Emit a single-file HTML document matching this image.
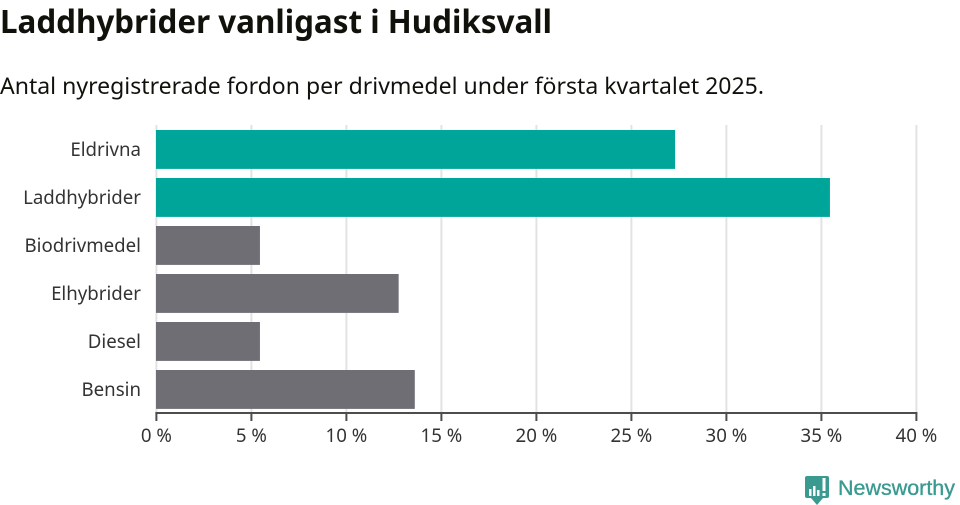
<!DOCTYPE html>
<html lang="sv">
<head>
<meta charset="utf-8">
<title>Laddhybrider vanligast i Hudiksvall</title>
<style>
html,body{margin:0;padding:0;background:#fff;width:960px;height:505px;overflow:hidden}
svg{display:block}
text{font-family:"Noto Sans","Open Sans","DejaVu Sans","Liberation Sans",sans-serif}
</style>
</head>
<body>
<svg id="chart" width="960" height="505" viewBox="0 0 960 505" xmlns="http://www.w3.org/2000/svg">
  <text x="0" y="33" font-size="32" font-weight="700" fill="#11110c" textLength="552" lengthAdjust="spacingAndGlyphs">Laddhybrider vanligast i Hudiksvall</text>
  <text x="0" y="94" font-size="22.5" fill="#11110c" textLength="764" lengthAdjust="spacingAndGlyphs">Antal nyregistrerade fordon per drivmedel under första kvartalet 2025.</text>
  <g id="grid"></g>
  <g id="bars"></g>
  <g id="ylabels"></g>
  <g id="xaxis"></g>
  <g>
    <path d="M807 476h20a2 2 0 0 1 2 2v18a2 2 0 0 1-2 2h-4l-6 7-6-7h-4a2 2 0 0 1-2-2v-18a2 2 0 0 1 2-2z" fill="#3a9a90"/>
    <rect x="809" y="489" width="2.500" height="7" fill="#fff"/>
    <rect x="813" y="486" width="2.500" height="10" fill="#fff"/>
    <rect x="817" y="490" width="2.500" height="6" fill="#fff"/>
    <rect x="822.500" y="478" width="3" height="13" fill="#fff"/>
    <rect x="822.500" y="493" width="3" height="3" fill="#fff"/>
    <text x="838" y="495" font-size="21" fill="#3a9a90" stroke="#3a9a90" stroke-width="0.35" textLength="117" lengthAdjust="spacingAndGlyphs" style="font-family:'Liberation Sans',sans-serif">Newsworthy</text>
  </g>
</svg>
<script>
var categories = ["Eldrivna", "Laddhybrider", "Biodrivmedel", "Elhybrider", "Diesel", "Bensin"];
var values = [27.3, 35.45, 5.45, 12.75, 5.45, 13.6];
var highlighted = ["Eldrivna", "Laddhybrider"];
var tickValues = [0, 5, 10, 15, 20, 25, 30, 35, 40];

var NS = "http://www.w3.org/2000/svg";
var plotLeft = 156.4, plotRight = 916.4, plotTop = 125, axisY = 413;
var domainMax = 40;
var bandStart = 130, bandStep = 48, barHeight = 38.9;

function xScale(v) { return plotLeft + (v / domainMax) * (plotRight - plotLeft); }
function yScale(i) { return bandStart + i * bandStep; }
function make(tag, attrs, parent) {
  var el = document.createElementNS(NS, tag);
  for (var k in attrs) { el.setAttribute(k, attrs[k]); }
  parent.appendChild(el);
  return el;
}

var grid = document.getElementById("grid");
var barsG = document.getElementById("bars");
var yl = document.getElementById("ylabels");
var xa = document.getElementById("xaxis");

tickValues.forEach(function (t) {
  var line = make("line", { x1: xScale(t), x2: xScale(t), y1: plotTop, y2: axisY, stroke: "#e2e2e2", "stroke-width": 2 }, grid);
  
  
});

categories.forEach(function (c, i) {
  var r = make("rect", {
    x: plotLeft - 0.4, y: yScale(i),
    width: xScale(values[i]) - plotLeft + 0.4, height: barHeight,
    fill: highlighted.indexOf(c) >= 0 ? "#00a59a" : "#6f6e74"
  }, barsG);
  
  
  var t = make("text", {
    x: 141, y: yScale(i) + 19.3 + 6.7,
    "text-anchor": "end", "font-size": 18.67, fill: "#333"
  }, yl);
  t.textContent = c;
  
  
});

var axisLine = make("line", { x1: plotLeft - 1, x2: plotRight + 1, y1: axisY, y2: axisY, stroke: "#4d4d4d", "stroke-width": 2 }, xa);



tickValues.forEach(function (t) {
  var tick = make("line", { x1: xScale(t), x2: xScale(t), y1: axisY, y2: axisY + 8, stroke: "#4d4d4d", "stroke-width": 2 }, xa);
  
  
  var lab = make("text", { x: xScale(t), y: 442, "text-anchor": "middle", "font-size": 18.67, fill: "#333" }, xa);
  lab.textContent = t + " %";
  
  
});
</script>
</body>
</html>
